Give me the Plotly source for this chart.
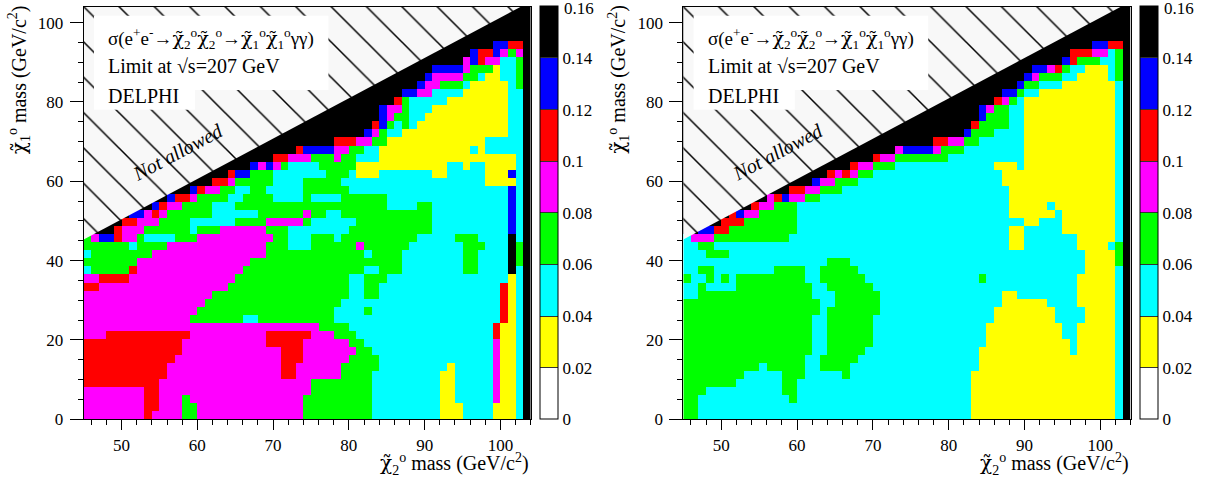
import plotly.graph_objects as go

# bin centres in GeV/c^2: 1 GeV bins in chi2 mass, rows of ~2 GeV in chi1 mass
ROW_H = 2.03
chi2_mass = [45.5 + i for i in range(59)]
chi1_mass = [ROW_H * (j + 0.5) for j in range(52)]

limit_edges = [0, 0.02, 0.04, 0.06, 0.08, 0.1, 0.12, 0.14, 0.16]
limit_labels = ["0", "0.02", "0.04", "0.06", "0.08", "0.1", "0.12", "0.14", "0.16"]
level_codes = "WYCGMRBK"
level_colors = ["#ffffff", "#ffff00", "#00ffff", "#00ff00", "#ff00ff", "#ff0000", "#0000ff", "#000000"]

x_ticks = [50, 60, 70, 80, 90, 100]
y_ticks = [0, 20, 40, 60, 80, 100]

# kinematically forbidden region (chi1 heavier than chi2)
not_allowed_x = [45, 102.7, 45]
not_allowed_y = [45.3, 104, 104]

# colour bin of the limit, one string per chi1 row (top row first),
# columns chi2 = 45..103 in groups of ten
left_rows = [
    "KKKKKKKKKK KKKKKKKKKK KKKKKKKKKK KKKKKKKKKK KKKKKKKKKK KKKKKKKKK",
    "KKKKKKKKKK KKKKKKKKKK KKKKKKKKKK KKKKKKKKKK KKKKKKKKKK KKKKKKKKK",
    "KKKKKKKKKK KKKKKKKKKK KKKKKKKKKK KKKKKKKKKK KKKKKKKKKK KKKKKKKKK",
    "KKKKKKKKKK KKKKKKKKKK KKKKKKKKKK KKKKKKKKKK KKKKKKKKKK KKKKKKKKK",
    "KKKKKKKKKK KKKKKKKKKK KKKKKKKKKK KKKKKKKKKK KKKKKKKKKK KKKKKKKKK",
    "KKKKKKKKKK KKKKKKKKKK KKKKKKKKKK KKKKKKKKKK KKKKKKKKKK KKKKBBRRK",
    "KKKKKKKKKK KKKKKKKKKK KKKKKKKKKK KKKKKKKKKK KKKKKKKKKK KBRRBMGMK",
    "KKKKKKKKKK KKKKKKKKKK KKKKKKKKKK KKKKKKKKKK KKKKKKKKKK MBRMMCCGK",
    "KKKKKKKKKK KKKKKKKKKK KKKKKKKKKK KKKKKKKKKK KKKKKKBBBB MGGGYCCGK",
    "KKKKKKKKKK KKKKKKKKKK KKKKKKKKKK KKKKKKKKKK KKKKKBMMMM GGCYYCCGK",
    "KKKKKKKKKK KKKKKKKKKK KKKKKKKKKK KKKKKKKKKK KKKKBMMGGG CYYYYYCGK",
    "KKKKKKKKKK KKKKKKKKKK KKKKKKKKKK KKKKKKKKKK KKBBMMCCCC YYYYYYCCK",
    "KKKKKKKKKK KKKKKKKKKK KKKKKKKKKK KKKKKKKKKK KRGCCCCCYY YYYYYYCCK",
    "KKKKKKKKKK KKKKKKKKKK KKKKKKKKKK KKKKKKKKKB MMGCCCYYYY YYYYYYCCK",
    "KKKKKKKKKK KKKKKKKKKK KKKKKKKKKK KKKKKKKKKB MGGCCYYYYY YYYYYYCCK",
    "KKKKKKKKKK KKKKKKKKKK KKKKKKKKKK KKKKKKKKRB GCGCYYYYYY YYYYYYCCK",
    "KKKKKKKKKK KKKKKKKKKK KKKKKKKKKK KKKKKKKBMG CCYYYYYYYY YYYYYYCCK",
    "KKKKKKKKKK KKKKKKKKKK KKKKKKKKKK KKKRRRMMGG YYYYYYYYYY YYYCCCCCK",
    "KKKKKKKKKK KKKKKKKKKK KKKKKKKKRB BBBMMGGCCY YYYYYYYYYY YCYCCCCCK",
    "KKKKKKKKKK KKKKKKKKKK KKKKKRRMMM GGGMGGCCCY YYYYYYYYYY YYYYYYYCK",
    "KKKKKKKKKK KKKKKKKKKK KKBMBMGCCC CGGGGGYYYY YYYYYYYYCC YCCYYYYCK",
    "KKKKKKKKKK KKKKKKKKKR BBGGGCCCCC CCGGGCYYYC CCCCCCYYCC CCCYYYBCK",
    "KKKKKKKKKK KKKKKKKRRM GGGGGCCCCG GGGGCCCCCC CCCCCCCCCC CCCYYYYCK",
    "KKKKKKKKKK KKKKBRMMGG CCGGCCCCCG GGGGGCCCCC CCCCCCCCCC CCCCCCBCK",
    "KKKKKKKKKK KBRRMGGGGC CGGGGCCCCG CCCCGGGGGG CCCCCCCCCC CCCCCCBCK",
    "KKKKKKKKKB RMMGGGGCCC GGGGGGGGGG GGGGGGGGGG CCCCGGCCCC CCCCCCBCK",
    "KKKKKKBBMR MGGGGGGCCC CCCGGGGGGM GGCCGGGGGG GGGGGGCCCC CCCCCCBCK",
    "KKKKKRRMMM GGGGCCCCCC GGGGMMMMMG CCCCCCGGGG GGGGGGCCCC CCCCCCBCK",
    "KKKKRMMMGG GGGGCGGGMM MMMMGGGCCC CCCCCGGGGG GGGGGGCCCC CCCCCCBCK",
    "GMBBRMMGCC CCGGGMMMMM MMMMMGGCCC GGGCGGGGGG GGGGCCCCCG GGCCCCKCK",
    "GGGGGGCGGG GMMMMMMMMM MMMMGGGCCC GGGGGGMGGG GGGCCCCCCC GGGCCCKGK",
    "CGGGGGGGGM MMMMMMMMMM MMMMGGGGGG GGGGGGGCGG GGCCCCCCCC GGCCCCKGK",
    "GGGGGGGMMM MMMMMMMMMM MMGGGGGGGG GGGGGGGGGG GGCCCCCCCC GGCCCCKGK",
    "CGGGGGRMMM MMMMMMMMMM MGGGGGGGGG GGGGGGGCCG GGCCCCCCCC GGCCCCKCK",
    "MMRRRRMMMM MMMMMMMMMM GGGGGGGGGG GGGGGCCGGG CCCCCCCCCC CCCCCCYCK",
    "RRMMMMMMMM MMMMMMMMMG GGGGGGGGGG GGGGGCCGGC CCCCCCCCCC CCCCCRYCK",
    "MMMMMMMMMM MMMMMMMGGG GGGGGGGGGG GGGGGCCGGC CCCCCCCCCC CCCCCRYCK",
    "MMMMMMMMMM MMMMMMGGGG GGGGGGGGGG GGGGCCCCCC CCCCCCCCCC CCCCCRYCK",
    "MMMMMMMMMM MMMMMGGGGG GGGGGGGGGG GGGCCCCGCC CCCCCCCCCC CCCCCRYCK",
    "MMMMMMMMMM MMMMGGGGGG GCCGGGGGGG GGGCCCCCCC CCCCCCCCCC CCCCCRYCK",
    "MMMMMMMMMM MMMMMMMMMM MMMMMMMMMM MGGGGCCCCC CCCCCCCCCC CCCCRYYCK",
    "MMMRRRRRRR RRRRMMMMMM MMMMRRRRRR MMMGGGCCCC CCCCCCCCCC CCCCRYYCK",
    "RRRRRRRRRR RRRMMMMMMM MMMMRRRRRM MMMMMGGCCC CCCCCCCCCC CCCCMYYCK",
    "RRRRRRRRRR RRRMMMMMMM MMMMMMRRRM MMMMMMGGCC CCCCCCCCCC CCCCMYYCK",
    "RRRRRRRRRR RRMMMMMMMM MMMMMMRRRM MMMMMGGGGC CCCCCCCCCC CCCCMYYCK",
    "RRRRRRRRRR RMMMMMMMMM MMMMMMRRMM MMMMGGGGGC CCCCCCCCYC CCCCMYYCK",
    "RRRRRRRRRR RMMMMMMMMM MMMMMMRRMM MMMMGGGGCC CCCCCCCYYC CCCCMYYCK",
    "RRRRRRRRRR MMMMMMMMMM MMMMMMMMMM GGGGGGGGCC CCCCCCCYYC CCCCMYYCK",
    "MMMMMMMMRR MMMMMMMMMM MMMMMMMMMM GGGGGGGGCC CCCCCCCYYC CCCCMYYCK",
    "MMMMMMMMRR MMMGMMMMMM MMMMMMMMMG GGGGGGGGCC CCCCCCCYYC CCCCMYYCK",
    "MMMMMMMMRR MMMGGMMMMM MMMMMMMMMG GGGGGGGGCC CCCCCCCYYY CCCCYYYCK",
    "MMMMMMMMRM MMMGGMMMMM MMMMMMMMMG GGGGGGGGCC CCCCCCCYYY CCCCYYYCK",
]

right_rows = [
    "KKKKKKKKKK KKKKKKKKKK KKKKKKKKKK KKKKKKKKKK KKKKKKKKKK KKKKKKKKK",
    "KKKKKKKKKK KKKKKKKKKK KKKKKKKKKK KKKKKKKKKK KKKKKKKKKK KKKKKKKKK",
    "KKKKKKKKKK KKKKKKKKKK KKKKKKKKKK KKKKKKKKKK KKKKKKKKKK KKKKKKKKK",
    "KKKKKKKKKK KKKKKKKKKK KKKKKKKKKK KKKKKKKKKK KKKKKKKKKK KKKKKKKKK",
    "KKKKKKKKKK KKKKKKKKKK KKKKKKKKKK KKKKKKKKKK KKKKKKKKKK KKKKKKKKK",
    "KKKKKKKKKK KKKKKKKKKK KKKKKKKKKK KKKKKKKKKK KKKKKKKKKK KKKKBBRRK",
    "KKKKKKKKKK KKKKKKKKKK KKKKKKKKKK KKKKKKKKKK KKKKKKKKKK KRRRMMCGK",
    "KKKKKKKKKK KKKKKKKKKK KKKKKKKKKK KKKKKKKKKK KKKKKKKKKK BRGGGCCGK",
    "KKKKKKKKKK KKKKKKKKKK KKKKKKKKKK KKKKKKKKKK KKKKKKBBMR GCCYYYCGK",
    "KKKKKKKKKK KKKKKKKKKK KKKKKKKKKK KKKKKKKKKK KKKKKBMGGG CCYYYYCGK",
    "KKKKKKKKKK KKKKKKKKKK KKKKKKKKKK KKKKKKKKKK KKKKBGGCCC YYYYYYYCK",
    "KKKKKKKKKK KKKKKKKKKK KKKKKKKKKK KKKKKKKKKK KKBBGCCYYY YYYYYYYCK",
    "KKKKKKKKKK KKKKKKKKKK KKKKKKKKKK KKKKKKKKKK KRMGCYYYYY YYYYYYYCK",
    "KKKKKKKKKK KKKKKKKKKK KKKKKKKKKK KKKKKKKKKB MGGCCYYYYY YYYYYYYCK",
    "KKKKKKKKKK KKKKKKKKKK KKKKKKKKKK KKKKKKKKKB GGGCCYYYYY YYYYYYYCK",
    "KKKKKKKKKK KKKKKKKKKK KKKKKKKKKK KKKKKKKKRG GGGCCYYYYY YYYYYYYCK",
    "KKKKKKKKKK KKKKKKKKKK KKKKKKKKKK KKKKKKKBGG GCCCCYYYYY YYYYYYYCK",
    "KKKKKKKKKK KKKKKKKKKK KKKKKKKKKK KKKRRMMGGC CCCCCYYYYY YYYYYYYCK",
    "KKKKKKKKKK KKKKKKKKKK KKKKKKKKMB BBBMGGGCCC CCCCCYYYYY YYYYYYYCK",
    "KKKKKKKKKK KKKKKKKKKK KKKKKRMMGG GGGGGCCCCC CCCCCYYYYY YYYYYYYCK",
    "KKKKKKKKKK KKKKKKKKKK KKRMMGGGCC CCCCCCCCCC CYYYCYYYYY YYYYYYYCK",
    "KKKKKKKKKK KKKKKKKKKR MRMGGCCCCC CCCCCCCCCC CCYYYYYYYY YYYYYYYCK",
    "KKKKKKKKKK KKKKKKKBMM GGGCCCCCCC CCCCCCCCCC CCYYYYYYYY YYYYYYYCK",
    "KKKKKKKKKK KKKKRRMMGG GCCCCCCCCC CCCCCCCCCC CCCYYYYYYY YYYYYYYCK",
    "KKKKKKKKKK KMRBMMGGCC CCCCCCCCCC CCCCCCCCCC CCCYYYYYYY YYYYYYYCK",
    "KKKKKKKKKR MMGGGCCCCC CCCCCCCCCC CCCCCCCCCC CCCYYYYYCY YYYYYYYCK",
    "KKKKKKRBMM GGGGGCCCCC CCCCCCCCCC CCCCCCCCCC CCCYYYYYYC YYYYYYYCK",
    "KKKKKRRRGG GGGGGCCCCC CCCCCCCCCC CCCCCCCCCC CCCCCYYCCC YYYYYYYCK",
    "KKBBRRGGGG GGGGGCCCCC CCCCCCCCCC CCCCCCCCCC CCCYYCCCCC YYYYYYYCK",
    "CMMMGGGGGG GGGGCCCCCC CCCCCCCCCC CCCCCCCCCC CCCYYCCCCC CCYYYYYCK",
    "CCGGCCCCCC CCCCCCCCCC CCCCCCCCCC CCCCCCCCCC CCCYYCCCCC CCYYYYCGK",
    "CCCGGGCCCC CCCCCCCCCC CCCCCCCCCC CCCCCCCCCC CCCCCCCCCC CCCYYYYGK",
    "CCCCCCCCCC CCCCCCCCCG GGCCCCCCCC CCCCCCCCCC CCCCCCCCCC CCCYYYYGK",
    "CCGGCCCCCC CCGGGGCCGG GGGCCCCCCC CCCCCCCCCC CCCCCCCCCC CCCYYYYCK",
    "GCCGCGCGGG GGGGGGCCGG GGGGCCCCCC CCCCCCCCCG CCCCCCCCCC CCYYYYYCK",
    "CCGCCCCGGG GGGGGGGCCG GGGGGCCCCC CCCCCCCCCC CCCCCCCCCC CCYYYYYCK",
    "CCGGGGGGGG GGGGGGGCCC GGGGGGCCCC CCCCCCCCCC CCYYCCCCCC CCYYYYYCK",
    "GGGGGGGGGG GGGGGGGGCC GGGGGGCCCC CCCCCCCCCC CCYYYYYYCC CCYYYYYCK",
    "GGGGGGGGGG GGGGGGGGCG GGGGGGCCCC CCCCCCCCCC CYYYYYYYYC CCCYYYYCK",
    "GGGGGGGGGG GGGGGGGCCG GGGGGCCCCC CCCCCCCCCC CYYYYYYYYC CCCYYYYCK",
    "GGGGGGGGGG GGGGGGGCCG GGGGGCCCCC CCCCCCCCCC YYYYYYYYYY CCYYYYYCK",
    "GGGGGGGGGG GGGGGGGCCG GGGGGCCCCC CCCCCCCCCC YYYYYYYYYY CCYYYYYCK",
    "GGGGGGGGGG GGGGGGGCCG GGGGGCCCCC CCCCCCCCCC YYYYYYYYYY YCYYYYYCK",
    "GGGGGGGGGG GGGGGGGCCG GGGGCCCCCC CCCCCCCCCY YYYYYYYYYY YCYYYYYCK",
    "GGGGGGGGGG GGGGGGCCGG GGGCCCCCCC CCCCCCCCCY YYYYYYYYYY YYYYYYYCK",
    "GGGGGGGGGG CGGGGGCCGG GGCCCCCCCC CCCCCCCCCY YYYYYYYYYY YYYYYYYCK",
    "GGGGGGGGCC CCCGGGCCCC CGCCCCCCCC CCCCCCCCYY YYYYYYYYYY YYYYYYYCK",
    "GGGGGGGCCC CCCGGCCCCC CCCCCCCCCC CCCCCCCCYY YYYYYYYYYY YYYYYYYCK",
    "GGGCCCCCCC CCCGGCCCCC CCCCCCCCCC CCCCCCCCYY YYYYYYYYYY YYYYYYYCK",
    "GGCCCCCCCC CCCCGCCCCC CCCCCCCCCC CCCCCCCCYY YYYYYYYYYY YYYYYYYCK",
    "GGCCCCCCCC CCCCCCCCCC CCCCCCCCCC CCCCCCCCYY YYYYYYYYYY YYYYYYYCK",
    "GGCCCCCCCC CCCCCCCCCC CCCCCCCCCC CCCCCCCCYY YYYYYYYYYY YYYYYYYCK",
]

bin_value = [(limit_edges[i] + limit_edges[i + 1]) / 2 for i in range(8)]


def to_grid(rows):
    grid = []
    for n, row in enumerate(reversed(rows)):
        cells = row.replace(" ", "")
        if len(cells) != len(chi2_mass):
            raise ValueError(f"row {n} has {len(cells)} cells")
        grid.append([bin_value[level_codes.index(c)] for c in cells])
    return grid


colorscale = []
for i, col in enumerate(level_colors):
    colorscale.append([i / 8, col])
    colorscale.append([(i + 1) / 8, col])

FONT = "Liberation Serif"
W, H = 1215, 493
y_dom = [(H - 419.3) / H, (H - 6.7) / H]
CB_W = 18
panels = [
    dict(rows=left_rows, xa="x", ya="y", left=83.7, right=530.7, cb=540),
    dict(rows=right_rows, xa="x2", ya="y2", left=683.3, right=1130.7, cb=1140),
]

chi = "<span style='font-family:DejaVu Serif'>χ\u0303</span>"
proc = (f"σ(e<sup>+</sup>e<sup>-</sup>→{chi}<sub>2</sub><sup>o</sup>{chi}<sub>2</sub><sup>o</sup>"
        f"→{chi}<sub>1</sub><sup>o</sup>{chi}<sub>1</sub><sup>o</sup>γγ)")
x_title = f"{chi}<sub>2</sub><sup>o</sup> mass (GeV/c<sup>2</sup>)"
y_title = f"{chi}<sub>1</sub><sup>o</sup> mass (GeV/c<sup>2</sup>)"

fig = go.Figure()
shapes, annotations = [], []

for p in panels:
    fig.add_trace(go.Heatmap(
        x=chi2_mass, y=chi1_mass, z=to_grid(p["rows"]),
        xaxis=p["xa"], yaxis=p["ya"],
        zmin=0, zmax=0.16, colorscale=colorscale, zsmooth=False,
        hoverinfo="skip",
        colorbar=dict(
            x=p["cb"] / W, xanchor="left", xpad=0, ypad=0,
            y=y_dom[0], yanchor="bottom", len=y_dom[1] - y_dom[0],
            thickness=CB_W, outlinecolor="black", outlinewidth=1,
            tickmode="array", tickvals=limit_edges[:-1],
            ticktext=limit_labels[:-1],
            ticks="inside", ticklen=CB_W, tickcolor="#333333", tickwidth=1,
            tickfont=dict(family=FONT, size=17, color="black"),
        ),
    ))
    # top colour-bar label, which plotly drops at the very end of the bar
    annotations.append(dict(text=limit_labels[-1], x=(p["cb"] + CB_W + 4) / W,
                            y=(H - 8.5) / H, xref="paper", yref="paper",
                            xanchor="left", yanchor="middle", showarrow=False,
                            font=dict(family=FONT, size=17, color="black")))
    fig.add_trace(go.Scatter(
        x=not_allowed_x, y=not_allowed_y, xaxis=p["xa"], yaxis=p["ya"],
        mode="lines", fill="toself", line=dict(width=0, color="black"),
        fillcolor="#f8f8f8",
        fillpattern=dict(shape="\\", size=25, solidity=0.06,
                         bgcolor="#f8f8f8", fgcolor="black", fgopacity=1),
        hoverinfo="skip", showlegend=False,
    ))
    # white background behind the process label
    for x0, x1, y0, y1 in [(46.36, 77.3, 83.0, 101.7), (46.36, 59.7, 78.0, 83.05)]:
        shapes.append(dict(type="rect", xref=p["xa"], yref=p["ya"],
                           x0=x0, x1=x1, y0=y0, y1=y1, layer="above",
                           fillcolor="white", line=dict(width=0)))
    for txt, yy, fs in [(proc, 96.1, 19), ("Limit at √s=207 GeV", 89.1, 20),
                        ("DELPHI", 81.5, 20)]:
        annotations.append(dict(text=txt, x=48.0, y=yy, xref=p["xa"], yref=p["ya"],
                                xanchor="left", yanchor="middle", showarrow=False,
                                font=dict(family=FONT, size=fs, color="black")))
    annotations.append(dict(text="<i>Not allowed</i>", x=57.4, y=67.4,
                            xref=p["xa"], yref=p["ya"], showarrow=False,
                            textangle=-28,
                            font=dict(family=FONT, size=20, color="black")))
    annotations.append(dict(text=x_title, x=p["right"] / W, y=(H - 464) / H,
                            xref="paper", yref="paper", xanchor="right",
                            yanchor="middle", showarrow=False,
                            font=dict(family=FONT, size=20, color="black")))
    annotations.append(dict(text=y_title, x=(p["left"] - 65) / W, y=(H - 3) / H,
                            xref="paper", yref="paper", xanchor="center",
                            yanchor="top", textangle=-90, showarrow=False,
                            font=dict(family=FONT, size=20, color="black")))

axis_common = dict(showgrid=False, zeroline=False, showline=True, linecolor="black",
                   linewidth=1, mirror=True, ticks="outside",
                   tickcolor="black", tickwidth=1,
                   tickfont=dict(family=FONT, size=17, color="black"))
x_minor = dict(dtick=2, tick0=0, ticklen=5, ticks="outside", tickcolor="black")
y_minor = dict(dtick=5, tick0=0, ticklen=5, ticks="outside", tickcolor="black")

fig.update_layout(
    width=W, height=H,
    margin=dict(l=0, r=0, t=0, b=0, autoexpand=False),
    paper_bgcolor="white", plot_bgcolor="white", showlegend=False,
    shapes=shapes, annotations=annotations,
    xaxis=dict(domain=[83.7 / W, 530.7 / W], range=[45, 104], anchor="y",
               tickvals=x_ticks, ticklen=10, minor=x_minor, **axis_common),
    xaxis2=dict(domain=[683.3 / W, 1130.7 / W], range=[45, 104], anchor="y2",
                tickvals=x_ticks, ticklen=10, minor=x_minor, **axis_common),
    yaxis=dict(domain=y_dom, range=[0, 104], anchor="x", tickvals=y_ticks,
               ticklen=13, ticklabelstandoff=3, minor=y_minor, **axis_common),
    yaxis2=dict(domain=y_dom, range=[0, 104], anchor="x2", tickvals=y_ticks,
                ticklen=13, ticklabelstandoff=3, minor=y_minor, **axis_common),
)

# the page's default body margin would shift the whole figure by 8 px
fig.write_html("out.html", config={"displayModeBar": False},
               post_script="document.body.style.margin='0';")
